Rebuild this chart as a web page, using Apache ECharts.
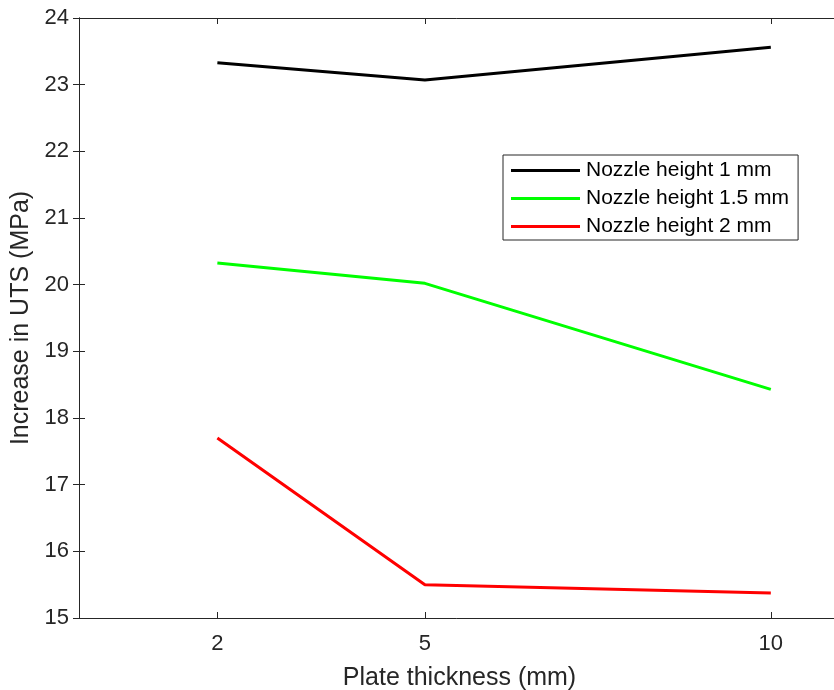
<!DOCTYPE html>
<html>
<head>
<meta charset="utf-8">
<script src="https://cdn.jsdelivr.net/npm/echarts@6/dist/echarts.min.js"></script>
<style>html,body{margin:0;padding:0;background:#fff}#c{width:834px;height:690px}</style>
</head>
<body>
<div id="c"></div>
<script>
const thickness = [2, 5, 10];
const xTicks = [2, 5, 10];
const yTicks = [15, 16, 17, 18, 19, 20, 21, 22, 23, 24];
const seriesNames = ['Nozzle height 1 mm', 'Nozzle height 1.5 mm', 'Nozzle height 2 mm'];
const h1 = [23.33, 23.07, 23.56];
const h15 = [20.325, 20.02, 18.43];
const h2 = [17.70, 15.50, 15.375];
const colors = ['#000000', '#00ff00', '#ff0000'];

const chart = echarts.init(document.getElementById('c'), null, {renderer: 'canvas'});
const axisColor = '#262626';
const font = 'Arial, "Liberation Sans", sans-serif';
const pair = (ys) => thickness.map((x, i) => [x, ys[i]]);

const option = {
  animation: false,
  backgroundColor: '#ffffff',
  grid: {left: 79, top: 18, right: -6, bottom: 72, containLabel: false, outerBoundsMode: 'none'},
  legend: {
    orient: 'vertical', left: 503, top: 155,
    data: seriesNames,
    icon: 'rect', itemWidth: 69, itemHeight: 3, itemGap: 7,
    padding: [5, 9, 3, 8],
    borderColor: axisColor, borderWidth: 1, backgroundColor: '#fff',
    textStyle: {fontFamily: font, fontSize: 21, color: '#000', padding: [0, 0, 0, 1]}
  },
  xAxis: [{
    type: 'value', min: 0, max: 11,
    name: 'Plate thickness (mm)', nameLocation: 'middle', nameGap: 48,
    nameTextStyle: {fontFamily: font, fontSize: 25, color: '#262626'},
    axisLine: {show: true, lineStyle: {color: axisColor, width: 1}},
    axisTick: {show: true, inside: true, length: 6, customValues: xTicks, lineStyle: {color: axisColor}},
    axisLabel: {customValues: xTicks, fontFamily: font, fontSize: 22, color: '#262626', margin: 15},
    splitLine: {show: false}
  }, {
    type: 'value', min: 0, max: 11, position: 'top',
    axisLine: {show: true, lineStyle: {color: axisColor, width: 1}},
    axisTick: {show: true, inside: true, length: 6, customValues: xTicks, lineStyle: {color: axisColor}},
    axisLabel: {show: false}, splitLine: {show: false}
  }],
  yAxis: [{
    type: 'value', min: 15, max: 24, interval: 1,
    name: 'Increase in UTS (MPa)', nameLocation: 'middle', nameGap: 45,
    nameTextStyle: {fontFamily: font, fontSize: 25, color: '#262626'},
    axisLine: {show: true, lineStyle: {color: axisColor, width: 1}},
    axisTick: {show: true, inside: true, length: 6, lineStyle: {color: axisColor}},
    axisLabel: {fontFamily: font, fontSize: 22, color: '#262626', margin: 10,
      formatter: (v) => yTicks.includes(v) ? String(v) : ''},
    splitLine: {show: false}
  }, {
    type: 'value', min: 15, max: 24, interval: 1, position: 'right',
    axisLine: {show: true, lineStyle: {color: axisColor, width: 1}},
    axisTick: {show: true, inside: true, length: 6, lineStyle: {color: axisColor}},
    axisLabel: {show: false}, splitLine: {show: false}
  }],
  series: [h1, h15, h2].map((ys, i) => ({
    name: seriesNames[i], type: 'line', data: pair(ys),
    xAxisIndex: 0, yAxisIndex: 0,
    symbol: 'none', lineStyle: {color: colors[i], width: 3},
    itemStyle: {color: colors[i]}
  }))
};
chart.setOption(option);
</script>
</body>
</html>
